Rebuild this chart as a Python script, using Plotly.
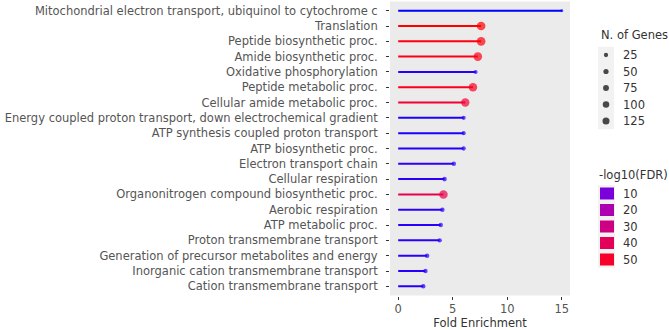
import plotly.graph_objects as go

terms = [
    "Mitochondrial electron transport, ubiquinol to cytochrome c",
    "Translation",
    "Peptide biosynthetic proc.",
    "Amide biosynthetic proc.",
    "Oxidative phosphorylation",
    "Peptide metabolic proc.",
    "Cellular amide metabolic proc.",
    "Energy coupled proton transport, down electrochemical gradient",
    "ATP synthesis coupled proton transport",
    "ATP biosynthetic proc.",
    "Electron transport chain",
    "Cellular respiration",
    "Organonitrogen compound biosynthetic proc.",
    "Aerobic respiration",
    "ATP metabolic proc.",
    "Proton transmembrane transport",
    "Generation of precursor metabolites and energy",
    "Inorganic cation transmembrane transport",
    "Cation transmembrane transport",
]
fold_enrichment = [15.0, 7.6, 7.6, 7.3, 7.1, 6.85, 6.15, 6.0, 6.0, 6.0,
                   5.1, 4.25, 4.15, 4.05, 3.9, 3.8, 2.65, 2.5, 2.3]
n_genes = [4, 225, 225, 220, 19, 215, 205, 22, 22, 24,
           30, 32, 215, 30, 30, 28, 32, 30, 28]
neg_log10_fdr = [2.5, 55, 54, 53, 3.2, 52, 48, 3.0, 3.0, 3.1,
                 3.5, 3.4, 42, 3.3, 3.3, 3.2, 3.4, 3.2, 3.1]

x_ticks = [0, 5, 10, 15]
size_breaks = [25, 50, 75, 100, 125]
color_breaks = [10, 20, 30, 40, 50]


# --- CIELAB colour ramp blue -> red (like ggplot2 scale_colour_gradient) ---
def _lin(c):
    c /= 255.0
    return c / 12.92 if c <= 0.04045 else ((c + 0.055) / 1.055) ** 2.4


def _gam(c):
    c = max(0.0, min(1.0, c))
    return 12.92 * c if c <= 0.0031308 else 1.055 * c ** (1 / 2.4) - 0.055


def rgb2lab(rgb):
    r, g, b = [_lin(v) for v in rgb]
    X = (0.4124 * r + 0.3576 * g + 0.1805 * b) / 0.95047
    Y = (0.2126 * r + 0.7152 * g + 0.0722 * b)
    Z = (0.0193 * r + 0.1192 * g + 0.9505 * b) / 1.08883
    f = lambda t: t ** (1 / 3) if t > 0.008856 else 7.787 * t + 16 / 116
    fx, fy, fz = f(X), f(Y), f(Z)
    return (116 * fy - 16, 500 * (fx - fy), 200 * (fy - fz))


def lab2rgb(lab):
    L, a, b = lab
    fy = (L + 16) / 116
    fx = fy + a / 500
    fz = fy - b / 200
    finv = lambda t: t ** 3 if t ** 3 > 0.008856 else (t - 16 / 116) / 7.787
    X, Y, Z = 0.95047 * finv(fx), finv(fy), 1.08883 * finv(fz)
    r = 3.2406 * X - 1.5372 * Y - 0.4986 * Z
    g = -0.9689 * X + 1.8758 * Y + 0.0415 * Z
    bb = 0.0557 * X - 0.2040 * Y + 1.0570 * Z
    return "rgb(%d,%d,%d)" % tuple(round(255 * _gam(v)) for v in (r, g, bb))


LOW, HIGH = rgb2lab((0, 0, 255)), rgb2lab((255, 0, 0))
fmin, fmax = min(neg_log10_fdr), max(neg_log10_fdr)


def col(v):
    t = (v - fmin) / (fmax - fmin)
    t = max(0, min(1, t))
    return lab2rgb(tuple(l + (h - l) * t for l, h in zip(LOW, HIGH)))


def dia(n):
    return 2.1 + 0.44 * n ** 0.5


W, H = 669, 330
FONT = "DejaVu Sans"
fig = go.Figure()

# lollipop stems
for term, fe, fd in zip(terms, fold_enrichment, neg_log10_fdr):
    fig.add_trace(go.Scatter(x=[0, fe], y=[term, term], mode="lines",
                             line=dict(color=col(fd), width=2),
                             showlegend=False, hoverinfo="skip"))

# lollipop heads
fig.add_trace(go.Scatter(
    x=fold_enrichment, y=terms, mode="markers",
    marker=dict(size=[dia(n) for n in n_genes],
                color=[col(v) for v in neg_log10_fdr], line=dict(width=0)),
    showlegend=False))

# ---- hand-built legends on a pixel-scaled helper axis ----
shapes = []
annotations = []
KX = 606          # key centre (px)
LX = 621          # label left (px)
annotations.append(dict(x=599, y=35, xref="x2", yref="y2", text="N. of Genes",
                        showarrow=False, xanchor="left", yanchor="middle",
                        font=dict(family=FONT, size=11.5, color="#333")))
size_y = [55 + 16.5 * i for i in range(len(size_breaks))]
shapes.append(dict(type="rect", xref="x2", yref="y2", x0=598, x1=614,
                   y0=size_y[0] - 8.25, y1=size_y[-1] + 8.25,
                   fillcolor="#F2F2F2", line=dict(width=0), layer="below"))
fig.add_trace(go.Scatter(x=[KX] * len(size_breaks), y=size_y, mode="markers",
                         xaxis="x2", yaxis="y2", showlegend=False, hoverinfo="skip",
                         marker=dict(size=[dia(s) for s in size_breaks],
                                     color="black", line=dict(width=0))))
for s, yy in zip(size_breaks, size_y):
    annotations.append(dict(x=LX, y=yy, xref="x2", yref="y2", text=str(s),
                            showarrow=False, xanchor="left", yanchor="middle",
                            font=dict(family=FONT, size=11.5, color="#333")))

annotations.append(dict(x=597, y=175, xref="x2", yref="y2", text="-log10(FDR)",
                        showarrow=False, xanchor="left", yanchor="middle",
                        font=dict(family=FONT, size=11.5, color="#333")))
col_y = [193.5 + 16.5 * i for i in range(len(color_breaks))]
shapes.append(dict(type="rect", xref="x2", yref="y2", x0=598, x1=615,
                   y0=col_y[0] - 8.25, y1=col_y[-1] + 8.25,
                   fillcolor="#F2F2F2", line=dict(width=0), layer="below"))
for c, yy in zip(color_breaks, col_y):
    shapes.append(dict(type="rect", xref="x2", yref="y2", x0=600, x1=614,
                       y0=yy - 6, y1=yy + 6, fillcolor=col(c),
                       line=dict(width=0)))
    annotations.append(dict(x=LX, y=yy, xref="x2", yref="y2", text=str(c),
                            showarrow=False, xanchor="left", yanchor="middle",
                            font=dict(family=FONT, size=11.5, color="#333")))

# grey panel background behind the main axes
shapes.insert(0, dict(type="rect", xref="x domain", yref="y domain", x0=0, x1=1,
                      y0=0, y1=1, fillcolor="#EBEBEB", line=dict(width=0),
                      layer="below"))

fig.update_layout(
    width=W, height=H,
    margin=dict(l=0, r=0, t=0, b=0),
    paper_bgcolor="white", plot_bgcolor="rgba(0,0,0,0)",
    font=dict(family=FONT, size=11.5, color="#555555"),
    showlegend=False,
    shapes=shapes, annotations=annotations,
    xaxis=dict(domain=[390 / W, 570 / W], range=[-0.75, 15.75], tickvals=x_ticks,
               showgrid=False, zeroline=False, ticks="outside", ticklen=3,
               tickcolor="#333", automargin=False,
               title=dict(text="Fold Enrichment", standoff=3,
                          font=dict(size=11.5, color="#333"))),
    yaxis=dict(domain=[1 - 295.5 / H, 1 - 1.5 / H], categoryorder="array",
               categoryarray=terms, range=[18.6, -0.6], showgrid=False,
               zeroline=False, ticks="outside", ticklen=3, tickcolor="#333",
               ticklabelstandoff=6, automargin=False),
    xaxis2=dict(domain=[0, 1], range=[0, W], visible=False, fixedrange=True,
                anchor="y2"),
    yaxis2=dict(domain=[0, 1], range=[H, 0], visible=False, fixedrange=True,
                anchor="x2"),
)

fig.write_html("out.html", config={"displayModeBar": False},
               post_script="document.body.style.margin='0';")
